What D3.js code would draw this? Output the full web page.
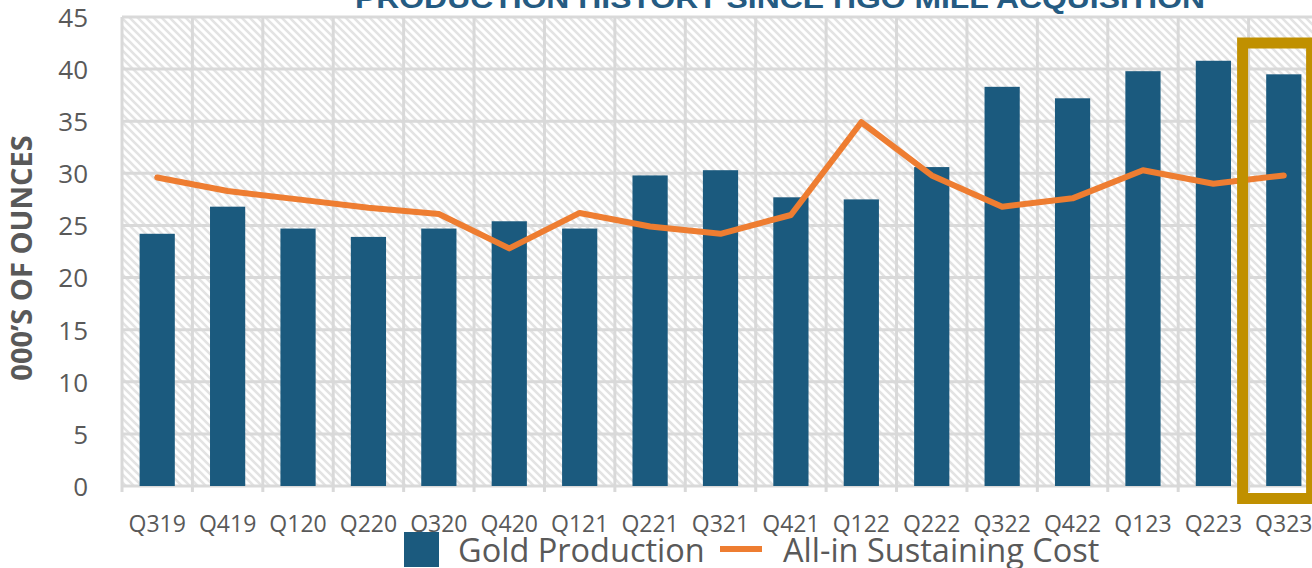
<!DOCTYPE html>
<html>
<head>
<meta charset="utf-8">
<script src="https://cdn.jsdelivr.net/npm/d3@7"></script>
<style>
  html, body { margin: 0; padding: 0; background: #fff; overflow: hidden; }
  svg { display: block; }
</style>
</head>
<body>
<div id="chart"></div>
<script>
const quarters = ['Q319', 'Q419', 'Q120', 'Q220', 'Q320', 'Q420', 'Q121', 'Q221', 'Q321',
  'Q421', 'Q122', 'Q222', 'Q322', 'Q422', 'Q123', 'Q223', 'Q323'];
const goldProduction = [24.2, 26.8, 24.7, 23.9, 24.7, 25.4, 24.7, 29.8, 30.3,
  27.7, 27.5, 30.6, 38.3, 37.2, 39.8, 40.8, 39.5];
const allInSustainingCost = [29.6, 28.3, 27.5, 26.7, 26.1, 22.8, 26.2, 24.9, 24.2,
  26.0, 34.9, 29.8, 26.8, 27.6, 30.3, 29.0, 29.8];
const yTicks = [0, 5, 10, 15, 20, 25, 30, 35, 40, 45];
const highlighted = 'Q323';

const width = 1312;
const height = 568;
const margin = { top: 17, right: -7, bottom: 82, left: 122 };

const blue = '#1b5a7e';
const orange = '#ee7d31';
const grid = '#d9d9d9';
const textGrey = '#595959';
const font = "'Open Sans', 'Liberation Sans', sans-serif";

const svg = d3.select('#chart')
  .append('svg')
  .attr('width', width)
  .attr('height', height);

// hatch fill for the plot area
const defs = svg.append('defs');
const pat = defs.append('pattern')
  .attr('id', 'hatch')
  .attr('patternUnits', 'userSpaceOnUse')
  .attr('width', 8)
  .attr('height', 8);
pat.append('rect').attr('width', 8).attr('height', 8).attr('fill', '#fff');
pat.append('path')
  .attr('d', 'M-2,-2 L10,10 M-2,6 L2,10 M6,-2 L10,2')
  .attr('stroke', '#e3e3e3')
  .attr('stroke-width', 2.6);

const x = d3.scaleBand()
  .domain(quarters)
  .range([margin.left, width - margin.right]);

const y = d3.scaleLinear()
  .domain([0, 45])
  .range([height - margin.bottom, margin.top]);

svg.append('rect')
  .attr('x', margin.left)
  .attr('y', margin.top)
  .attr('width', width - margin.right - margin.left)
  .attr('height', y(0) - margin.top)
  .attr('fill', 'url(#hatch)');

// horizontal grid
svg.append('g')
  .selectAll('line')
  .data(yTicks)
  .join('line')
  .attr('x1', margin.left)
  .attr('x2', width - margin.right)
  .attr('y1', (d) => y(d))
  .attr('y2', (d) => y(d))
  .attr('stroke', grid)
  .attr('stroke-width', 3);

// vertical grid at category boundaries (with little ticks below the axis)
const bounds = quarters.map((q) => x(q)).concat([x(quarters[quarters.length - 1]) + x.bandwidth()]);
svg.append('g')
  .selectAll('line')
  .data(bounds)
  .join('line')
  .attr('x1', (d) => d)
  .attr('x2', (d) => d)
  .attr('y1', margin.top)
  .attr('y2', y(0) + 6)
  .attr('stroke', grid)
  .attr('stroke-width', 3);

// y axis labels
const yAxis = d3.axisLeft(y).tickValues(yTicks).tickSize(0).tickPadding(0);
svg.append('g')
  .attr('transform', `translate(${margin.left - 34},0)`)
  .call(yAxis)
  .call((g) => g.select('.domain').remove())
  .call((g) => g.selectAll('text')
    .attr('fill', textGrey)
    .attr('font-family', font)
    .attr('font-size', 26)
    .attr('dy', '0.36em'));

// x axis labels
const xAxis = d3.axisBottom(x).tickSize(0).tickPadding(0);
svg.append('g')
  .attr('transform', `translate(0,${y(0) + 46})`)
  .call(xAxis)
  .call((g) => g.select('.domain').remove())
  .call((g) => g.selectAll('text')
    .attr('fill', textGrey)
    .attr('font-family', font)
    .attr('font-size', 23)
    .attr('dy', 0));

// bars
svg.append('g')
  .selectAll('rect')
  .data(quarters)
  .join('rect')
  .attr('x', (d) => x(d) + x.bandwidth() * 0.25)
  .attr('width', x.bandwidth() * 0.5)
  .attr('y', (d, i) => y(goldProduction[i]))
  .attr('height', (d, i) => y(0) - y(goldProduction[i]))
  .attr('fill', blue);

// AISC line
const line = d3.line()
  .x((d, i) => x(quarters[i]) + x.bandwidth() / 2)
  .y((d) => y(d));
svg.append('path')
  .datum(allInSustainingCost)
  .attr('d', line)
  .attr('fill', 'none')
  .attr('stroke', orange)
  .attr('stroke-width', 6)
  .attr('stroke-linejoin', 'round')
  .attr('stroke-linecap', 'round');

// highlight box around latest quarter
const hx = x(highlighted);
svg.append('rect')
  .attr('x', hx - x.bandwidth() * 0.085)
  .attr('y', 43)
  .attr('width', x.bandwidth() * 0.98)
  .attr('height', y(0) + 12.5 - 43)
  .attr('fill', 'none')
  .attr('stroke', '#c09000')
  .attr('stroke-width', 11);

// title (cut off at the top)
svg.append('text')
  .attr('x', 780)
  .attr('y', 8)
  .attr('text-anchor', 'middle')
  .attr('font-family', "'Liberation Sans', Arial, sans-serif")
  .attr('font-weight', 'bold')
  .attr('font-size', 27)
  .attr('fill', '#255b82')
  .attr('textLength', 850)
  .attr('lengthAdjust', 'spacingAndGlyphs')
  .text('PRODUCTION HISTORY SINCE HGO MILL ACQUISITION');

// y axis title
svg.append('text')
  .attr('transform', 'translate(32,258) rotate(-90)')
  .attr('text-anchor', 'middle')
  .attr('font-family', font)
  .attr('font-weight', 'bold')
  .attr('font-size', 29)
  .attr('fill', textGrey)
  .text('000’S OF OUNCES');

// legend
const legend = svg.append('g').attr('font-family', font).attr('font-size', 32.5).attr('fill', textGrey);
legend.append('rect')
  .attr('x', 404).attr('y', 532).attr('width', 35).attr('height', 35)
  .attr('fill', blue);
legend.append('text').attr('x', 458).attr('y', 562).text('Gold Production');
legend.append('line')
  .attr('x1', 720).attr('x2', 762).attr('y1', 549).attr('y2', 549)
  .attr('stroke', orange).attr('stroke-width', 6);
legend.append('text').attr('x', 783).attr('y', 562).text('All-in Sustaining Cost');
</script>
</body>
</html>
